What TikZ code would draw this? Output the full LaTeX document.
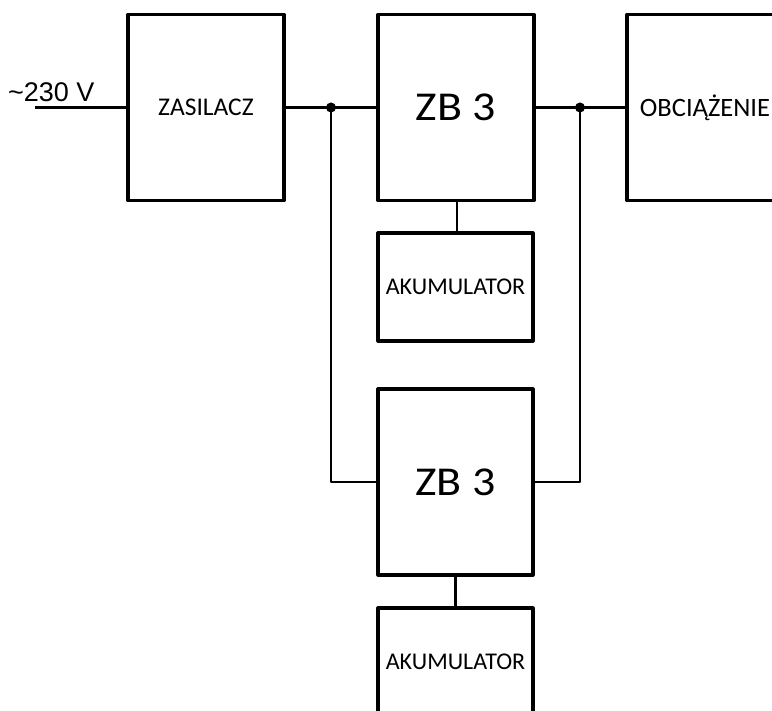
\documentclass[tikz,border=0pt]{standalone}
\usepackage{fontspec}
\setmainfont{Carlito}
\newfontfamily\arialfont{Liberation Sans}
\newcommand{\zbtext}{\scalebox{1.12}[1]{ZB 3}}
\begin{document}
\begin{tikzpicture}[x=1pt,y=-1pt,
  blk/.style={draw=black, line width=3.2pt, line join=round, rectangle, inner sep=0pt,
    minimum width=156pt, font=\fontsize{25.5}{30}\selectfont},
  bigblk/.style={blk, minimum height=186pt},
  akblk/.style={blk, minimum height=108pt, font=\fontsize{24}{28}\selectfont},
  zbfont/.style={font=\fontsize{41}{48}\selectfont},
  wire/.style={line width=2.2pt, line join=round},
  dotj/.style={circle, fill=black, inner sep=0pt, minimum size=10pt}
]
\useasboundingbox (0,0) rectangle (772,711);
\node[bigblk] (zas) at (206,107.5) {\raisebox{-2pt}{ZASILACZ}};
\node[bigblk, zbfont] (zb1) at (456,107.5) {\raisebox{-3pt}{\zbtext}};
\node[bigblk, font=\fontsize{26.5}{31}\selectfont] (obc) at (705,107.5) {OBCIĄŻENIE};
\node[akblk, minimum width=155pt] (ak1) at (455.5,287) {\raisebox{-2pt}{AKUMULATOR}};
\node[bigblk, minimum width=155pt, zbfont] (zb2) at (455.5,482) {\zbtext};
\node[akblk, minimum width=155pt] (ak2) at (455.5,662) {AKUMULATOR};
\coordinate (in) at (35,107.5);
\node[dotj] (j1) at (331,107.5) {};
\node[dotj] (j2) at (580,107.5) {};
\node[anchor=base west, inner sep=0pt, font=\arialfont\fontsize{27}{32}\selectfont] (lbl) at (8,102) {\char126\relax 230 V};
\draw[wire] (in) -- (zas.west);
\draw[wire] (zas.east) -- (zb1.west);
\draw[wire] (zb1.east) -- (obc.west);
\draw[wire] (j1.center) |- (zb2.west);
\draw[wire] (j2.center) |- (zb2.east);
\draw[wire] (zb1.south -| ak1.north) ++(1.5,0) -- ++(0,31.5);
\draw[wire] (zb2.south) -- (ak2.north);
\end{tikzpicture}
\end{document}
